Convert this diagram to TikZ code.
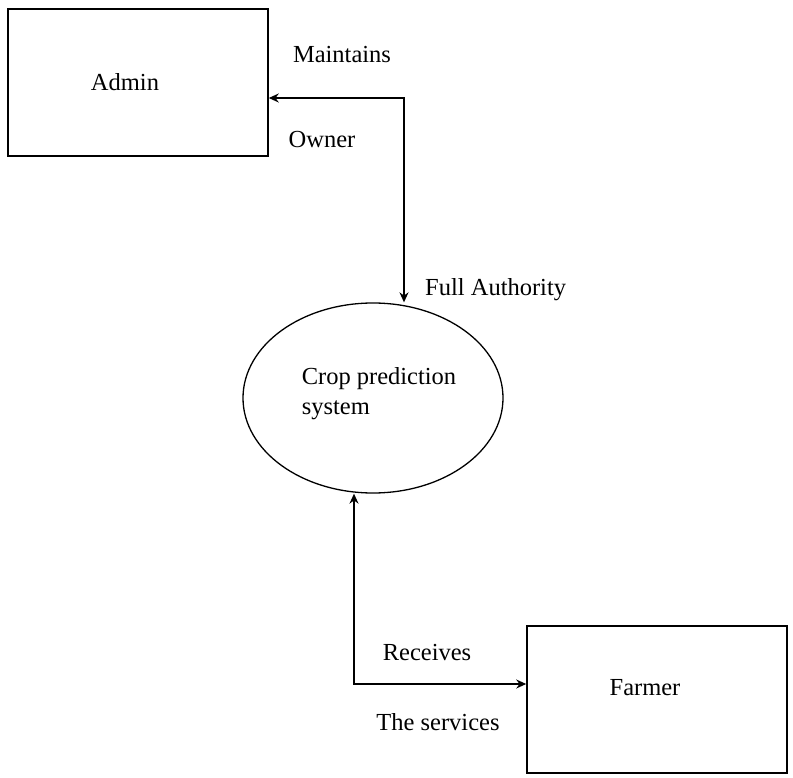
\documentclass[tikz,border=0pt]{standalone}
\usepackage{fontspec}
\setmainfont{Liberation Serif}
\usetikzlibrary{shapes.geometric,arrows.meta,positioning}

\tikzset{
  entity/.style={draw, line width=1.5pt, minimum width=260pt, inner sep=0pt},
  process/.style={draw, ellipse, line width=1.3pt, minimum width=260pt,
    minimum height=190pt, inner sep=0pt},
  flow/.style={line width=1.5pt, {Stealth[length=10pt,width=9pt]}-{Stealth[length=10pt,width=9pt]}},
  tag/.style={inner sep=0pt},
}

\begin{document}
\begin{tikzpicture}[x=1pt, y=-1pt, font=\fontsize{24.5}{30}\selectfont]
  \useasboundingbox (0,0) rectangle (793,778);

  % the two external entities and the system
  \node [entity, minimum height=147pt] (admin) at (138,82.5) {};
  \node [tag] at (125,82) {Admin};
  \node [process] (cps) at (373,398) {};
  \node [tag, align=left] at (379,394) {Crop prediction\\system};
  \node [entity, minimum height=147pt] (farmer) at (657,699.5) {};
  \node [tag] at (645,688) {Farmer};

  % bends of the connectors
  \coordinate (ac) at (404,98);
  \coordinate (fc) at (354,684);

  \draw [flow] (admin.east |- ac) -- (ac) -- (ac |- cps.north);
  \draw [flow] (fc |- cps.south) -- (fc) -- (fc -| farmer.west);

  % flow labels
  \node [tag] at (342,55) {Maintains};
  \node [tag] at (322,140) {Owner};
  \node [tag, anchor=west] at (425,290) {Full Authority};
  \node [tag] at (427,653) {Receives};
  \node [tag] at (438,722) {The services};
\end{tikzpicture}
\end{document}
